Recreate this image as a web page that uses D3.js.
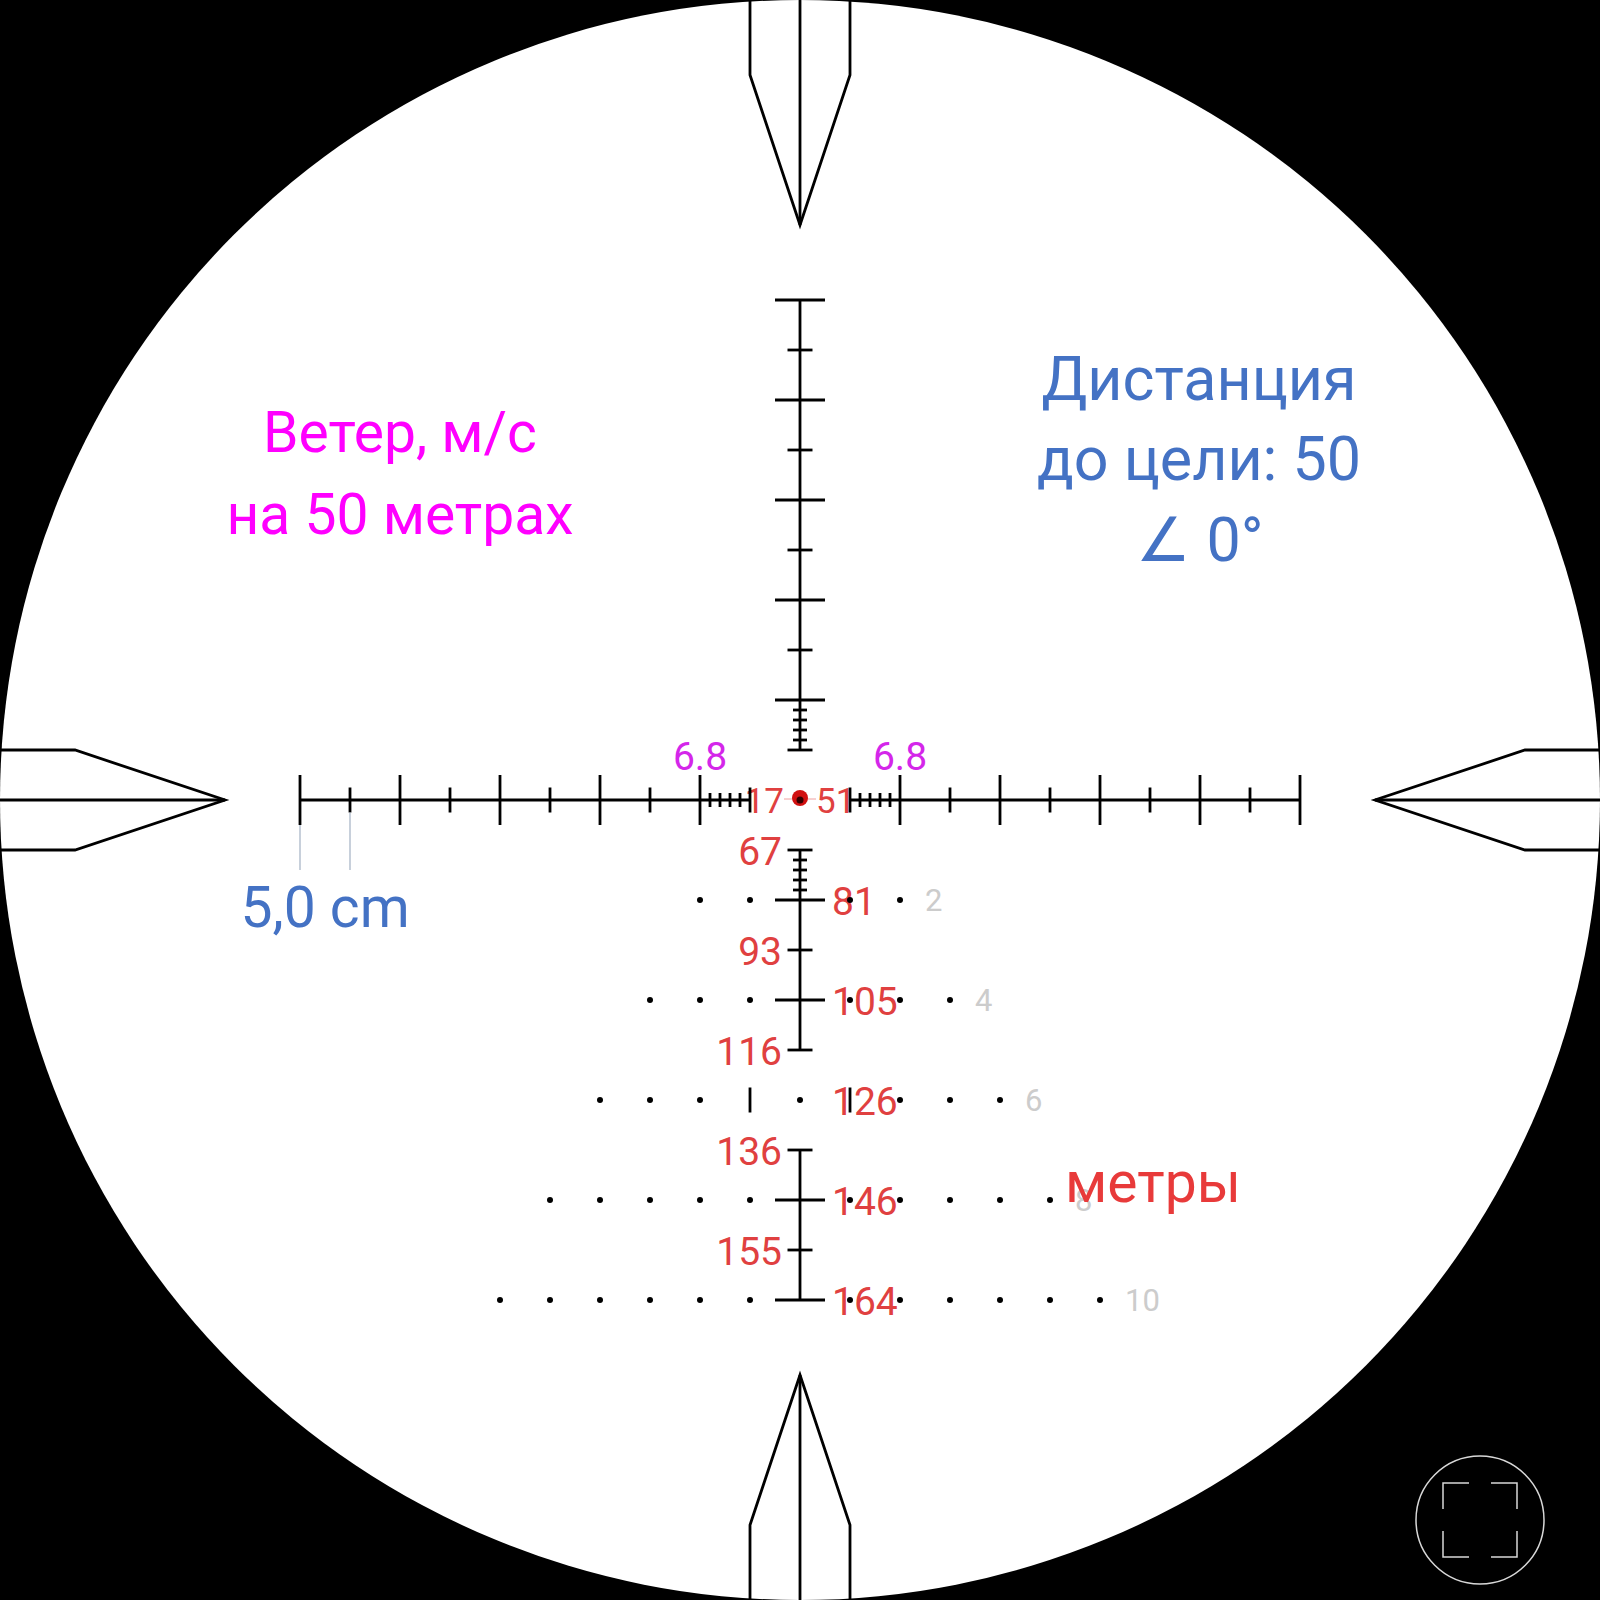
<!doctype html>
<html>
<meta charset="utf-8">
<style>
body { margin: 0; padding: 0; background: #000; }
svg { display: block; }
text { font-family: Roboto, sans-serif; }
</style>
<body>
<svg width="1600" height="1600"></svg>
<script src="https://d3js.org/d3.v7.min.js"></script>
<script>

// all reticle values are in mil, 0 = crosshair centre
var majorTicks = [2, 4, 6, 8, 10];
var minorTicks = [1, 3, 5, 7, 9];
var fineTicks = [1.2, 1.4, 1.6, 1.8];

// drop scale below the centre
var lowerMajor = [2, 4, 8, 10];
var lowerMinor = [1, 3, 5, 7, 9];
var lowerFine = [1.2, 1.4, 1.6, 1.8];
var lowerStems = [[1, 5], [7, 10]];

// range labels (metres) and the hold each one sits on
var rangeLabels = ["17", "51", "67", "81", "93", "105", "116", "126", "136", "146", "155", "164"];
var rangeHolds = [0, 0, 1, 2, 3, 4, 5, 6, 7, 8, 9, 10];
var rangeSides = [-1, 1, -1, 1, -1, 1, -1, 1, -1, 1, -1, 1];

// wind dots
var windRows = [2, 4, 6, 8, 10];
var windDots = [2, 3, 4, 5, 6];
var windMarks = [6.8, 6.8];
var windMarkHolds = [-2, 2];

var svg = d3.select("svg");
var w = +svg.attr("width");

var x = d3.scaleLinear().domain([-16, 16]).range([0, w]);
var y = d3.scaleLinear().domain([-16, 16]).range([0, w]);
var cx = x(0), cy = y(0);
var u = x(1) - x(0);

var BLACK = "#000";
var RED = "#e04040";
var BLUE = "#4472c4";
var lineW = 2.8;

svg.append("circle")
  .attr("cx", cx).attr("cy", cy).attr("r", x(16) - cx)
  .attr("fill", "#fff");

// red labels go under the black marks, the dots show through them
var g = svg.append("g");

g.selectAll("text.range")
  .data(rangeLabels)
  .join("text")
  .attr("class", "range")
  .attr("x", function(d, i) {
    if (rangeHolds[i] == 0) return cx + rangeSides[i] * 16;
    return rangeSides[i] < 0 ? cx - 18 : cx + 32;
  })
  .attr("y", function(d, i) { return y(rangeHolds[i]) + (rangeHolds[i] == 0 ? 13 : 15); })
  .attr("text-anchor", function(d, i) { return rangeSides[i] < 0 ? "end" : "start"; })
  .attr("font-size", function(d, i) { return rangeHolds[i] == 0 ? 35 : 39; })
  .attr("fill", RED)
  .text(function(d) { return d; });

function seg(x1, y1, x2, y2, color, width) {
  g.append("line")
    .attr("x1", x1).attr("y1", y1).attr("x2", x2).attr("y2", y2)
    .attr("stroke", color || BLACK)
    .attr("stroke-width", width || lineW);
}

// tick across a horizontal arm / across a vertical arm
function hArmTicks(sign, list, half) {
  list.forEach(function(t) { seg(x(sign * t), y(-half), x(sign * t), y(half)); });
}
function vArmTicks(sign, list, half) {
  list.forEach(function(t) { seg(x(-half), y(sign * t), x(half), y(sign * t)); });
}

// left and right arms
[-1, 1].forEach(function(s) {
  seg(x(s * 1), cy, x(s * 10), cy);
  hArmTicks(s, majorTicks, 0.5);
  hArmTicks(s, minorTicks, 0.25);
  hArmTicks(s, fineTicks, 0.14);
});

// top arm
seg(cx, y(-1), cx, y(-10));
vArmTicks(-1, majorTicks, 0.5);
vArmTicks(-1, minorTicks, 0.25);
vArmTicks(-1, fineTicks, 0.14);

// bottom arm, broken at the 6 mil row
lowerStems.forEach(function(s) { seg(cx, y(s[0]), cx, y(s[1])); });
vArmTicks(1, lowerMajor, 0.5);
vArmTicks(1, lowerMinor, 0.25);
vArmTicks(1, lowerFine, 0.14);

// wind dots, the 6 mil row has upright ticks in place of the inner dots
windRows.forEach(function(row, r) {
  d3.range(1, windDots[r] + 1).forEach(function(k) {
    [-1, 1].forEach(function(s) {
      if (row == 6 && k == 1) {
        seg(x(s * k), y(row - 0.25), x(s * k), y(row + 0.25));
      } else {
        g.append("circle")
          .attr("cx", x(s * k)).attr("cy", y(row)).attr("r", 3)
          .attr("fill", BLACK);
      }
    });
  });
  if (row == 6) {
    g.append("circle").attr("cx", cx).attr("cy", y(row)).attr("r", 3).attr("fill", BLACK);
  }
});

// light drop lines run on from the first two wind ticks
seg(x(-10), y(0.5), x(-10), y(1.4), "#b0bccc", 1.4);
seg(x(-9), y(0.25), x(-9), y(1.4), "#b0bccc", 1.4);

// grey wind numbers
g.selectAll("text.wind")
  .data(windRows)
  .join("text")
  .attr("class", "wind")
  .attr("x", function(d, i) { return x(windDots[i]) + 25; })
  .attr("y", function(d) { return y(d) + 11; })
  .attr("font-size", 31)
  .attr("fill", "#cccccc")
  .text(function(d) { return d; });

g.selectAll("text.mark")
  .data(windMarks)
  .join("text")
  .attr("class", "mark")
  .attr("x", function(d, i) { return x(windMarkHolds[i]); })
  .attr("y", cy - 30)
  .attr("text-anchor", "middle")
  .attr("font-size", 39)
  .attr("fill", "#d426ea")
  .text(function(d) { return d.toFixed(1); });

// centre dot
seg(cx - 16, cy - 1, cx + 16, cy - 1, "#f0a0a0", 1);
g.append("circle").attr("cx", cx).attr("cy", cy - 2).attr("r", 8).attr("fill", "#d01010");
g.append("circle").attr("cx", cx).attr("cy", cy).attr("r", 3.5).attr("fill", "#300");

// the four heavy posts: tip at 11.5 mil, shoulder at 14.5 mil, width 1 mil each side
var post = d3.line();
[[0, -1], [0, 1], [-1, 0], [1, 0]].forEach(function(d) {
  var p = function(along, side) {
    return d[0] == 0
      ? [x(side), y(d[1] * along)]
      : [x(d[0] * along), y(side)];
  };
  g.append("path")
    .attr("d", post([p(16.1, -1), p(14.5, -1), p(11.5, 0), p(14.5, 1), p(16.1, 1)]))
    .attr("fill", "none").attr("stroke", BLACK).attr("stroke-width", lineW);
  g.append("path")
    .attr("d", post([p(16.1, 0), p(11.5, 0)]))
    .attr("fill", "none").attr("stroke", BLACK).attr("stroke-width", lineW);
});

// captions
function caption(txt, px, py, color, size) {
  svg.append("text")
    .attr("x", px).attr("y", py)
    .attr("text-anchor", "middle")
    .attr("font-size", size)
    .attr("fill", color)
    .text(txt);
}
caption("Ветер, м/с", 400, 452, "#ff00ff", 57);
caption("на 50 метрах", 400, 534, "#ff00ff", 57);
caption("Дистанция", 1199, 400, BLUE, 61);
caption("до цели: 50", 1199, 480, BLUE, 61);
caption("∠ 0°", 1200, 561, BLUE, 61);
caption("5,0 cm", 325, 927, BLUE, 57);
caption("метры", 1153, 1202, "#e83a3a", 57);

// fullscreen button
var btn = svg.append("g").attr("transform", "translate(1480,1520)")
  .attr("fill", "none").attr("stroke", "#d8d8d8").attr("stroke-width", 1.5);
btn.append("circle").attr("r", 64);
[[-1, -1], [1, -1], [1, 1], [-1, 1]].forEach(function(c) {
  btn.append("path").attr("d", post([
    [c[0] * 37, c[1] * 11], [c[0] * 37, c[1] * 37], [c[0] * 11, c[1] * 37]
  ]));
});

</script>
</body>
</html>
